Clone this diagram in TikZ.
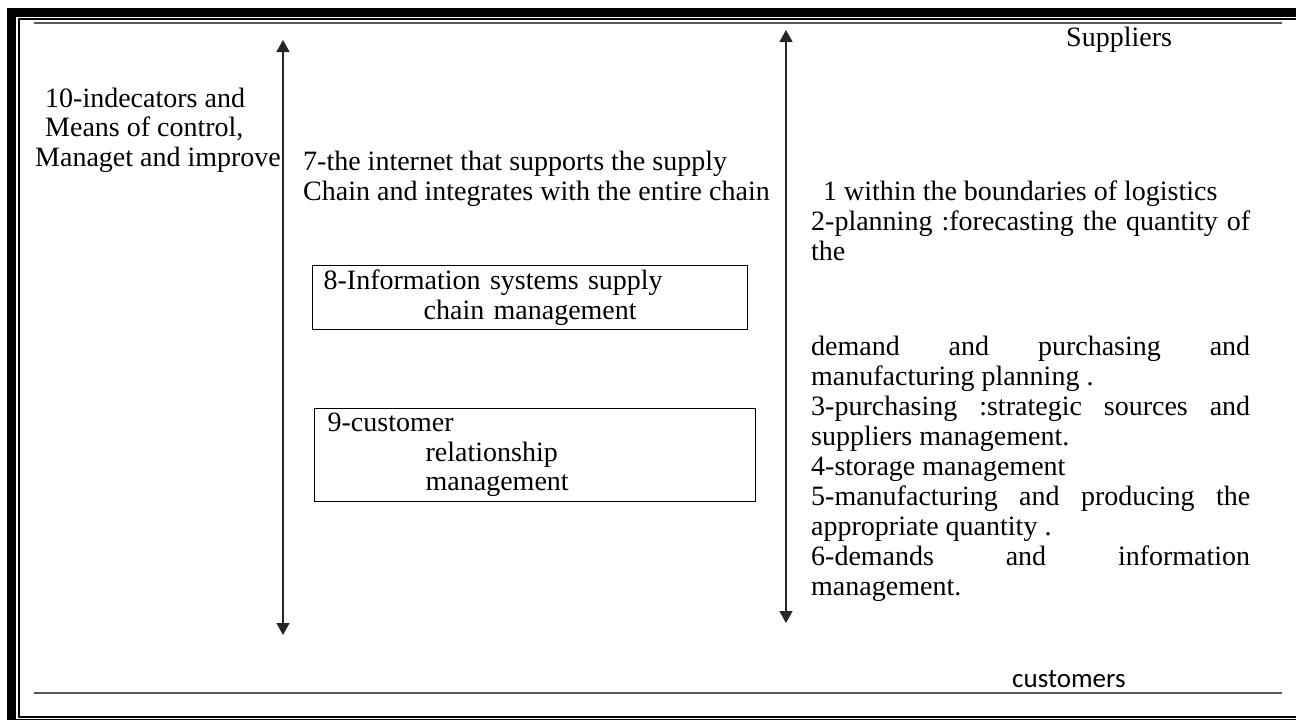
\documentclass[tikz,border=0pt]{standalone}
\usepackage{fontspec}
\setmainfont{Liberation Serif}
\newfontfamily\custfont{Carlito}
\usetikzlibrary{positioning}
\usetikzlibrary{arrows.meta}
\tikzset{>={Triangle[length=12pt,width=13pt]}}
\tikzset{txt/.style={inner sep=0pt,align=left,anchor=base west,font=\fontsize{28}{29.5}\selectfont}}
\tikzset{blk/.style={draw,line width=1.3pt,inner sep=0pt,anchor=north west,align=left,font=\fontsize{28}{29.5}\selectfont}}
\tikzset{flow/.style={<->,line width=1.6pt,draw=black!85,fill=black}}
\tikzset{rule/.style={line width=1.4pt,draw=black!65}}
\newcommand{\jline}[1]{\makebox[439pt][s]{#1}}

\begin{document}
\begin{tikzpicture}[x=1pt,y=-1pt]
\useasboundingbox (0,0) rectangle (1296,720);

% page border
\fill (7,8) rectangle (16,720);
\fill (7,8) rectangle (1296,17);
\draw[line width=1.7pt] (1296,19.2) -- (19.2,19.2) -- (19.2,716.8) -- (1296,716.8);
\draw[line width=1.2pt] (16,719.4) -- (1296,719.4);
\draw[rule] (34,23) -- (1282,23);
\draw[rule] (34,693) -- (1282,693);

% the two flows
\coordinate (ltop) at (283,40);
\coordinate (lbot) at (283,635);
\coordinate (rtop) at (786,30);
\coordinate (rbot) at (786,623);
\draw[flow] (ltop) -- (lbot);
\draw[flow] (rtop) -- (rbot);

\node[txt] (sup) at (1066,46) {Suppliers};
\node[txt,font=\custfont\fontsize{27}{30}\selectfont] (cus) at (1012,687) {customers};

% base = last line of each block
\node[txt] (ctrl) at (35,166) {\hspace*{10pt}10-indecators and\\
\hspace*{10pt}Means of control,\\
Managet and improve};

\node[txt] (net) at (303,200) {7-the internet that supports the supply\\
Chain and integrates with the entire chain};

\node[blk,minimum width=435pt,minimum height=64pt,text width=413pt] (isys) at (312,265)
  {8-Information systems supply\\ \hspace*{100pt}chain management};
\node[blk,minimum width=441pt,minimum height=93pt,text width=415pt] (crm) at (314,408)
  {9-customer\\ \hspace*{98pt}relationship\\ \hspace*{98pt}management};

\node[txt,font=\fontsize{28}{30}\selectfont] (scm) at (811,595) {\hspace*{12pt}1 within the boundaries of logistics\\
\jline{2-planning :forecasting the quantity of}\\
the\\[65pt]
\jline{demand and purchasing and}\\
manufacturing planning .\\
\jline{3-purchasing :strategic sources and}\\
suppliers management.\\
4-storage management\\
\jline{5-manufacturing and producing the}\\
appropriate quantity .\\
\jline{6-demands and information}\\
management.};

\end{tikzpicture}
\end{document}
